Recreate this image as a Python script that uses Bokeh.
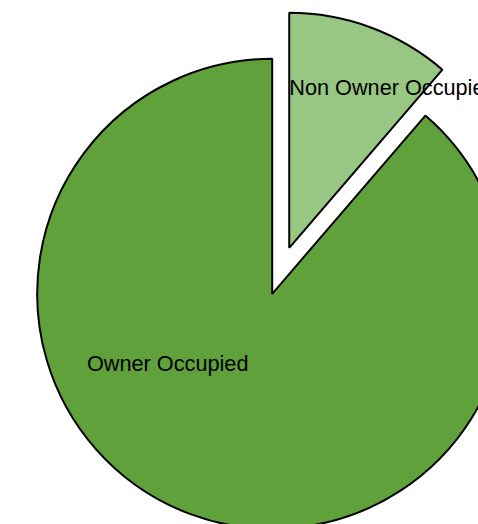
import math
from bokeh.plotting import figure
from bokeh.models import Range1d, ColumnDataSource
from bokeh.core.properties import value
from bokeh.embed import file_html
from bokeh.resources import INLINE

categories = ["Owner Occupied", "Non Owner Occupied"]
values = [88.7, 11.3]
colors = ["#61a13c", "#98c783"]
exploded = [False, True]

W, H = 478, 524
cx, cy = 271.7, 230.7
R = 235
explode_dist = 49

p = figure(width=W, height=H, output_backend="svg", toolbar_location=None,
           x_range=Range1d(0, W), y_range=Range1d(0, H), min_border=0)
p.axis.visible = False
p.grid.visible = False
p.outline_line_color = None
p.background_fill_color = "white"

total = sum(values)
# slices go clockwise from 12 o'clock; Non Owner first
order = [1, 0]
ang = math.pi / 2
xs, ys, starts, ends, cols = [], [], [], [], []
for i in order:
    sweep = 2 * math.pi * values[i] / total
    end = ang
    start = ang - sweep
    mid = (start + end) / 2
    ox = cx + (explode_dist * math.cos(mid) if exploded[i] else 0)
    oy = cy + (explode_dist * math.sin(mid) if exploded[i] else 0)
    xs.append(ox); ys.append(oy)
    starts.append(start); ends.append(end if end > start else end + 2 * math.pi)
    cols.append(colors[i])
    ang = start

src = ColumnDataSource(dict(x=xs, y=ys, start=starts, end=ends, color=cols))
p.wedge(x="x", y="y", radius=R, start_angle="start", end_angle="end",
        fill_color="color", line_color="black", line_width=2, source=src)

# labels
p.text(x=[cx - 104.5], y=[161], text=[categories[0]], text_align="center",
       text_baseline="alphabetic", text_font=value("Liberation Sans"),
       text_font_size="21.7px", text_color="black")
p.text(x=[xs[0]], y=[437.5], text=[categories[1]], text_align="left",
       text_baseline="alphabetic", text_font=value("Liberation Sans"),
       text_font_size="21.7px", text_color="black")

open("out.html", "w").write(file_html(p, INLINE))
